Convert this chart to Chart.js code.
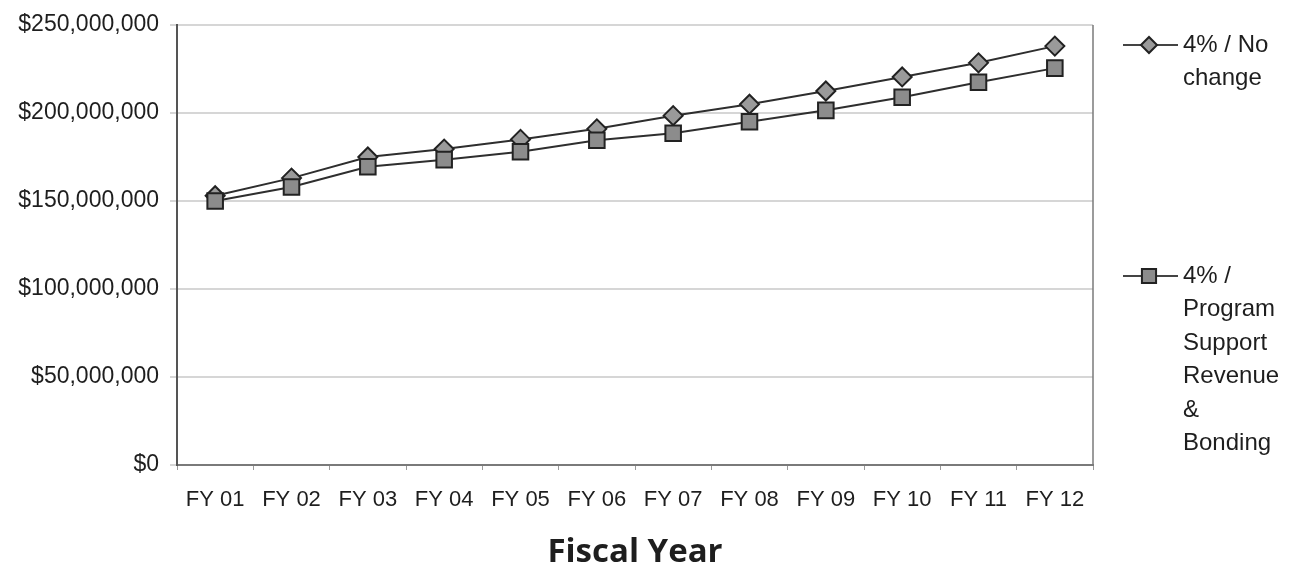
<!DOCTYPE html>
<html>
<head>
<meta charset="utf-8">
<title>Fiscal Year Projection</title>
<script src="https://cdn.jsdelivr.net/npm/chart.js@4.4.1/dist/chart.umd.min.js"></script>
<style>
  html, body { margin: 0; padding: 0; background: #ffffff; }
  #wrap { position: relative; width: 1291px; height: 562px; }
</style>
</head>
<body>
<div id="wrap"><canvas id="chart" width="1291" height="562"></canvas></div>
<script>
// Fiscal years on the horizontal axis
const fiscalYears = ['FY 01', 'FY 02', 'FY 03', 'FY 04', 'FY 05', 'FY 06',
                     'FY 07', 'FY 08', 'FY 09', 'FY 10', 'FY 11', 'FY 12'];

// Scenario: 4% / No change (dollars)
const noChange = [153000000, 163000000, 175000000, 179500000, 185000000, 191000000,
                  198500000, 205000000, 212500000, 220500000, 228500000, 238000000];

// Scenario: 4% / Program Support Revenue & Bonding (dollars)
const programSupport = [150000000, 158000000, 169500000, 173500000, 178000000, 184500000,
                        188500000, 195000000, 201500000, 209000000, 217500000, 225500000];

// Vertical axis tick values
const yTicks = [0, 50000000, 100000000, 150000000, 200000000, 250000000];

// Legend text, one entry per line as it wraps beside the plot
const noChangeLabel = ['4% / No', 'change'];
const programSupportLabel = ['4% /', 'Program', 'Support', 'Revenue', '&', 'Bonding'];

const TEXT = '#1e1e1e';
const LINE = '#2e2e2e';
const SANS = '"Liberation Sans", Arial, Helvetica, sans-serif';

const fmtDollars = v => '$' + Number(v).toLocaleString('en-US');

// Right-hand frame line and the wrapped legend beside the plot
const frameAndLegend = {
  id: 'frameAndLegend',
  afterDraw(chart) {
    const { ctx, chartArea: a } = chart;
    ctx.save();
    ctx.strokeStyle = '#7a7a7a';
    ctx.lineWidth = 1.5;
    ctx.beginPath();
    ctx.moveTo(a.right, a.top);
    ctx.lineTo(a.right, a.bottom);
    ctx.stroke();

    const entries = [
      { ds: chart.data.datasets[0], lines: noChangeLabel, y: a.top + 20, r: 8 },
      { ds: chart.data.datasets[1], lines: programSupportLabel, y: a.top + 251, r: 10 }
    ];
    const x1 = a.right + 30, x2 = a.right + 85, mx = a.right + 56, tx = a.right + 90;
    entries.forEach(e => {
      ctx.strokeStyle = '#444444';
      ctx.lineWidth = 2;
      ctx.beginPath();
      ctx.moveTo(x1, e.y);
      ctx.lineTo(x2, e.y);
      ctx.stroke();
      ctx.fillStyle = e.ds.pointBackgroundColor;
      ctx.strokeStyle = e.ds.pointBorderColor;
      ctx.lineWidth = e.ds.pointBorderWidth;
      Chart.helpers.drawPoint(ctx, { pointStyle: e.ds.pointStyle, radius: e.r, rotation: 0, borderWidth: e.ds.pointBorderWidth }, mx, e.y);
      ctx.fillStyle = TEXT;
      ctx.font = '24px ' + SANS;
      ctx.textAlign = 'left';
      ctx.textBaseline = 'middle';
      e.lines.forEach((t, i) => ctx.fillText(t, tx, e.y + i * 33.5));
    });
    ctx.restore();
  }
};

new Chart(document.getElementById('chart'), {
  type: 'line',
  data: {
    labels: fiscalYears,
    datasets: [
      {
        label: noChangeLabel.join(' '),
        data: noChange,
        order: 2,
        borderColor: LINE,
        borderWidth: 2,
        pointStyle: 'rectRot',
        pointRadius: 9.5,
        pointHoverRadius: 9.5,
        pointBackgroundColor: '#9a9a9a',
        pointBorderColor: '#222222',
        pointBorderWidth: 2,
        tension: 0,
        fill: false
      },
      {
        label: programSupportLabel.join(' '),
        data: programSupport,
        order: 1,
        borderColor: LINE,
        borderWidth: 2,
        pointStyle: 'rect',
        pointRadius: 11,
        pointHoverRadius: 11,
        pointBackgroundColor: '#8c8c8c',
        pointBorderColor: '#222222',
        pointBorderWidth: 2,
        tension: 0,
        fill: false
      }
    ]
  },
  options: {
    responsive: false,
    animation: false,
    devicePixelRatio: 1,
    layout: { padding: { top: 25, right: 198, bottom: 0, left: 0 } },
    plugins: {
      legend: { display: false },
      tooltip: { enabled: false },
      title: { display: false }
    },
    scales: {
      x: {
        offset: true,
        grid: {
          display: true,
          drawOnChartArea: false,
          drawTicks: true,
          tickLength: 5,
          tickColor: '#9a9a9a',
          offset: true
        },
        border: { display: true, color: '#7a7a7a', width: 2 },
        ticks: {
          color: TEXT,
          font: { family: SANS, size: 22 },
          padding: 17,
          maxRotation: 0,
          autoSkip: false
        },
        title: {
          display: true,
          text: 'Fiscal Year',
          color: TEXT,
          font: { family: '"Open Sans", "Noto Sans", sans-serif', size: 33, weight: 'bold', lineHeight: 0.55 },
          padding: { top: 0, bottom: 0 }
        },
        afterFit(scale) { scale.height = 97; }
      },
      y: {
        min: 0,
        max: 250000000,
        afterBuildTicks(scale) { scale.ticks = yTicks.map(v => ({ value: v })); },
        grid: {
          color: '#d6d6d6',
          lineWidth: 2,
          tickLength: 7,
          tickColor: '#d6d6d6'
        },
        border: { display: true, color: '#555555', width: 2 },
        ticks: {
          color: TEXT,
          font: { family: SANS, size: 23 },
          padding: 11,
          callback: v => fmtDollars(v)
        },
        afterFit(scale) { scale.width = 177; }
      }
    }
  },
  plugins: [frameAndLegend]
});
</script>
</body>
</html>
